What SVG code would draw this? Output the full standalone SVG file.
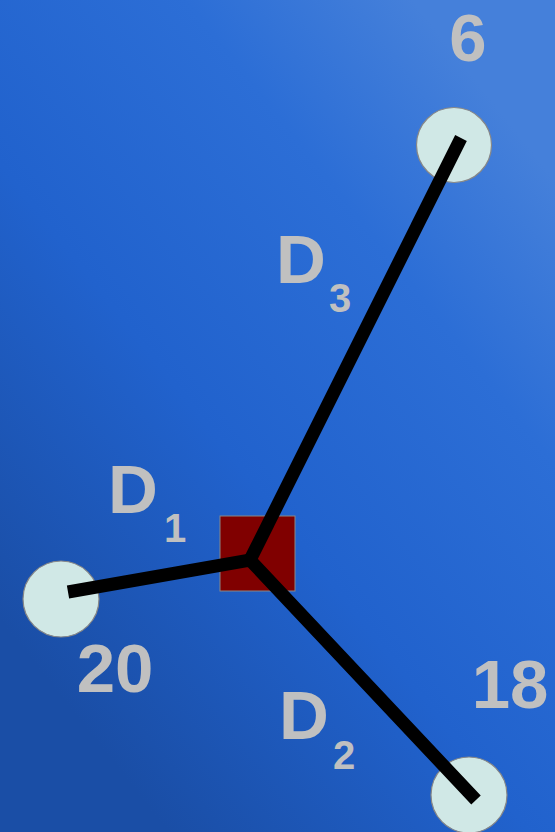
<svg xmlns="http://www.w3.org/2000/svg" width="555" height="832" viewBox="0 0 555 832">
<defs>
<linearGradient id="bg" x1="0" y1="620" x2="555" y2="180" gradientUnits="userSpaceOnUse">
<stop offset="0" stop-color="#1a4ea6"/>
<stop offset="0.4" stop-color="#2162cd"/>
<stop offset="0.75" stop-color="#2c6ed6"/>
<stop offset="1" stop-color="#4580da"/>
</linearGradient>
<style>
.node{fill:#d0e8e6;stroke:#888888;stroke-width:1.2}
.lbl{font-family:"Liberation Sans",Arial,sans-serif;font-weight:bold;fill:#c0c0c0}
.big{font-size:69px}
.sub{font-size:40px}
.edge{stroke:#000000;stroke-width:13;fill:none;stroke-linecap:butt;stroke-linejoin:miter}
</style>
</defs>
<rect x="0" y="0" width="555" height="832" fill="url(#bg)"/>
<g id="n6"><circle class="node" cx="454" cy="145" r="37.5"/></g>
<g id="n20"><circle class="node" cx="61" cy="599" r="38"/></g>
<g id="n18"><circle class="node" cx="469" cy="795" r="38"/></g>
<g id="center"><rect x="220" y="516" width="75" height="75" fill="#800000" stroke="#888888" stroke-width="1"/></g>
<g id="connectors">
<path class="edge" d="M68,592 L250,560 L476,800"/>
<path class="edge" d="M250,560 L461,138"/>
</g>
<g id="labels">
<text class="lbl" x="468" y="61" text-anchor="middle" font-size="67">6</text>
<text class="lbl big" x="115" y="692" text-anchor="middle">20</text>
<text class="lbl big" x="510" y="708" text-anchor="middle">18</text>
<text class="lbl big" x="108" y="513">D</text>
<text class="lbl sub" x="164" y="542">1</text>
<text class="lbl big" x="279" y="739">D</text>
<text class="lbl sub" x="333" y="769">2</text>
<text class="lbl big" x="276" y="283">D</text>
<text class="lbl sub" x="329" y="312">3</text>
</g>
</svg>
